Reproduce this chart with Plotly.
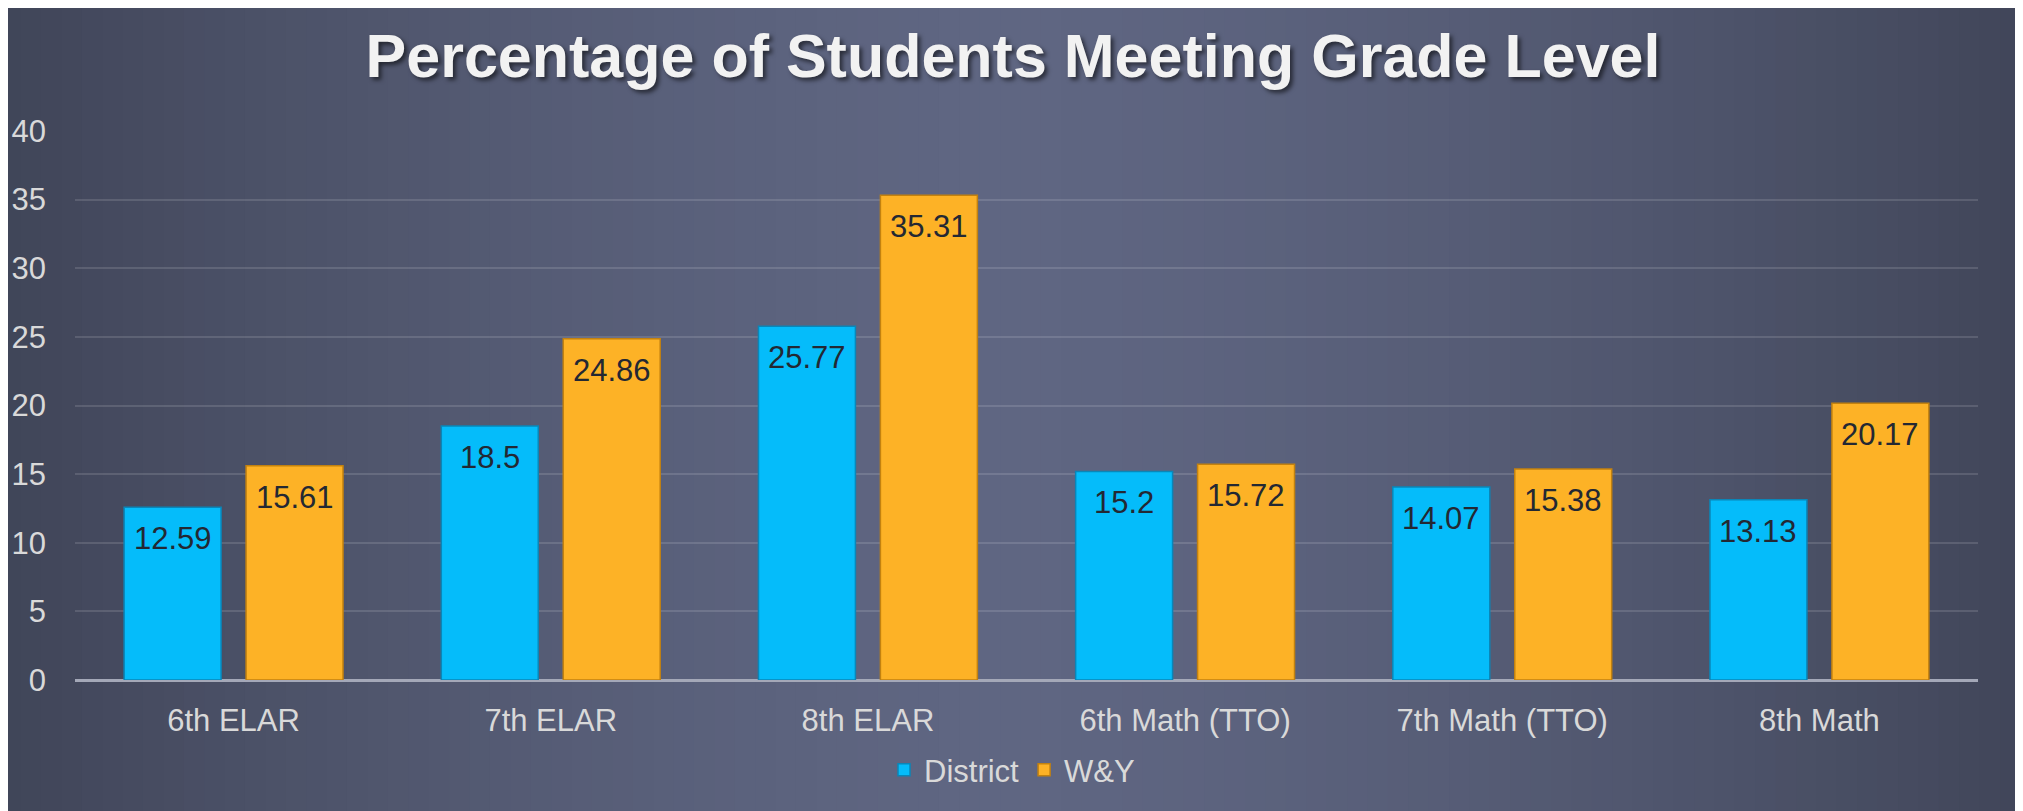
import plotly.graph_objects as go

categories = ["6th ELAR", "7th ELAR", "8th ELAR", "6th Math (TTO)", "7th Math (TTO)", "8th Math"]
district = [12.59, 18.5, 25.77, 15.2, 14.07, 13.13]
wy = [15.61, 24.86, 35.31, 15.72, 15.38, 20.17]
y_ticks = [0, 5, 10, 15, 20, 25, 30, 35, 40]
title_text = "Percentage of Students Meeting Grade Level"

W, H = 2023, 811
OFF = 8  # page body margin
L, R, T, B = 67, 53, 123, 139
PW, PH = W - L - R, H - T - B
BARGAP = 0.231
BARGROUPGAP = 0.205


def fx(x_page):
    return (x_page - OFF - L) / PW


def fy(y_page):
    return (H - B - (y_page - OFF)) / PH


FONT = "Liberation Sans, Arial, sans-serif"
LABEL_COLOR = "#d9d9d9"
TEXT_DARK = "#232833"

fig = go.Figure()
fig.add_trace(go.Bar(
    name="District", x=categories, y=district,
    marker=dict(color="#05BCFA", line=dict(color="#0A86B8", width=1.5)),
))
fig.add_trace(go.Bar(
    name="W&Y", x=categories, y=wy,
    marker=dict(color="#FDB226", line=dict(color="#C2810F", width=1.5)),
))

# data labels, placed inside the top of each bar
annotations = []
slot = (1 - BARGAP) / 2
for k, series in enumerate([district, wy]):
    shift = (k - 0.5) * slot
    for i, v in enumerate(series):
        annotations.append(dict(
            x=i + shift, y=v, xref="x", yref="y", text=f"{v:g}",
            showarrow=False, xanchor="center", yanchor="top", yshift=-12,
            font=dict(family=FONT, size=31, color=TEXT_DARK)))

# background: horizontal gradient, dark edges, light centre
shapes = []
edge = (64, 69, 88)
centre = (95, 102, 130)
NS = 100
x_start, x_end, cxp = 0, W + OFF + 10, 1000
step = (x_end - x_start) / NS
for s in range(NS):
    xa = x_start + s * step
    xm = xa + step / 2
    t = min(1.0, abs(xm - cxp) / (cxp if xm < cxp else (x_end - cxp)))
    w = 1 - t ** 1.5
    col = tuple(round(edge[j] + (centre[j] - edge[j]) * w) for j in range(3))
    shapes.append(dict(type="rect", xref="paper", yref="paper",
                       x0=fx(xa), x1=fx(xa + step + 1), y0=fy(H + OFF + 10), y1=fy(0),
                       fillcolor=f"rgb{col}", line=dict(width=0), layer="below"))

fig.update_layout(
    width=W, height=H,
    margin=dict(l=L, r=R, t=T, b=B, autoexpand=False),
    paper_bgcolor="#41465A", plot_bgcolor="rgba(0,0,0,0)",
    barmode="group", bargap=BARGAP, bargroupgap=BARGROUPGAP,
    shapes=shapes,
    annotations=annotations,
    title=dict(text=title_text, x=fx(1013), xref="paper", xanchor="center",
               y=1 - 48 / H, yref="container", yanchor="middle",
               font=dict(family=FONT, size=61, color="#f2f2f2", weight="bold",
                         shadow="3px 3px 4px rgba(0,0,0,0.55)")),
    legend=dict(orientation="h", x=fx(1012), xanchor="center", y=fy(770), yanchor="middle",
                font=dict(family=FONT, size=31, color=LABEL_COLOR),
                bgcolor="rgba(0,0,0,0)", itemclick=False),
    xaxis=dict(showgrid=False, tickfont=dict(family=FONT, size=31, color=LABEL_COLOR),
               ticks="", showline=False, ticklabelstandoff=19),
    yaxis=dict(range=[0, 40], tickvals=y_ticks, showgrid=True,
               gridcolor="rgba(255,255,255,0.13)", gridwidth=2,
               zeroline=True, zerolinecolor="#A4A8B8", zerolinewidth=3,
               tickfont=dict(family=FONT, size=31, color=LABEL_COLOR),
               ticks="", ticklabelstandoff=28, showline=False),
    showlegend=True,
)

fig.write_html("out.html")
